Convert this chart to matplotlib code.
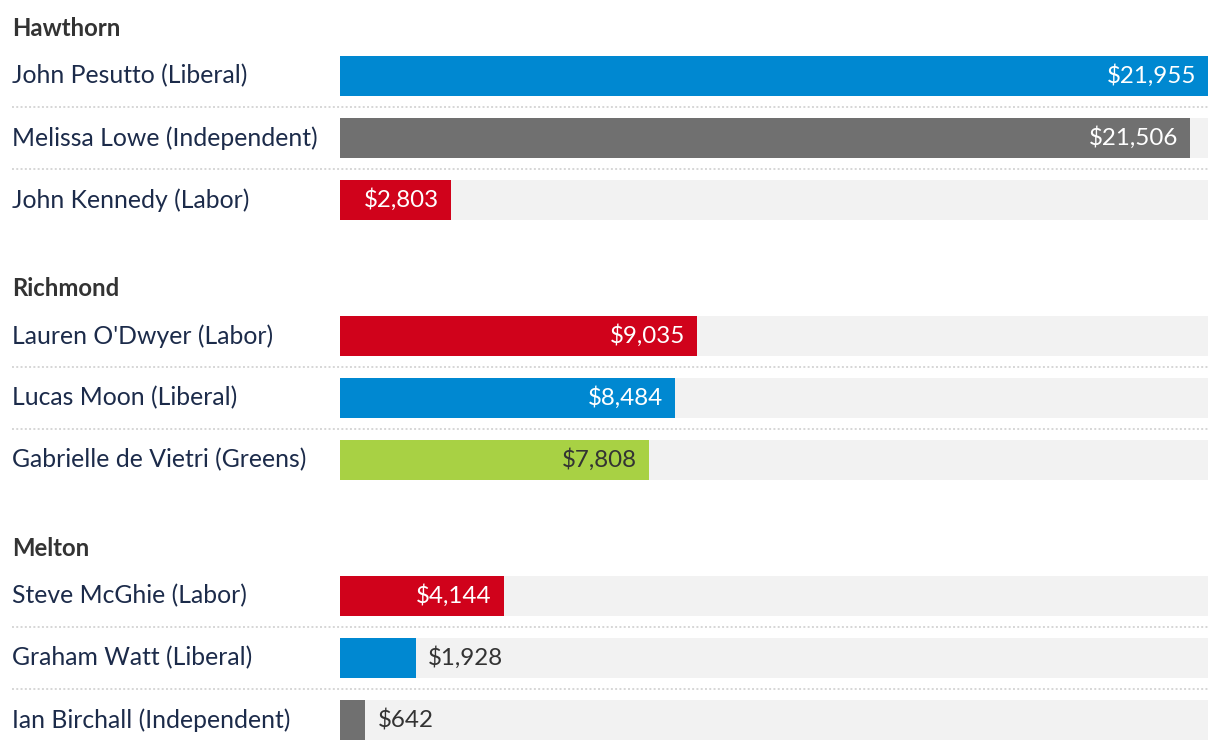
import matplotlib
matplotlib.use("Agg")
import matplotlib.pyplot as plt
from matplotlib.transforms import blended_transform_factory

# ---- data ----
groups = ["Hawthorn", "Richmond", "Melton"]
candidates = [
    ["John Pesutto (Liberal)", "Melissa Lowe (Independent)", "John Kennedy (Labor)"],
    ["Lauren O'Dwyer (Labor)", "Lucas Moon (Liberal)", "Gabrielle de Vietri (Greens)"],
    ["Steve McGhie (Labor)", "Graham Watt (Liberal)", "Ian Birchall (Independent)"],
]
parties = [
    ["Liberal", "Independent", "Labor"],
    ["Labor", "Liberal", "Greens"],
    ["Labor", "Liberal", "Independent"],
]
values = [
    [21955, 21506, 2803],
    [9035, 8484, 7808],
    [4144, 1928, 642],
]

# ---- style ----
party_colors = {"Liberal": "#0088d1", "Independent": "#707070",
                "Labor": "#d0021b", "Greens": "#a8d144"}
inside_text = {"Liberal": "white", "Independent": "white",
               "Labor": "white", "Greens": "#333333"}
FONT = "Lato"
W, H = 1220, 750
fig = plt.figure(figsize=(W / 100, H / 100), dpi=100)
fig.patch.set_facecolor("white")
x0, x1 = 340, 1208
ax = fig.add_axes([x0 / W, 0, (x1 - x0) / W, 1])
ax.set_xlim(0, max(max(v) for v in values))
ax.set_ylim(H, 0)
ax.axis("off")
vmax = ax.get_xlim()[1]
tr_lab = blended_transform_factory(fig.transFigure, ax.transData)

row_h = 40
row_step = 62
group_step = 260
first_center = 76
header_off = 48
fs = 17.8
fs_val = 17.4

for g, gname in enumerate(groups):
    base = first_center + g * group_step
    ax.text(12 / W, base - header_off, gname, transform=tr_lab, fontsize=17.2,
            fontweight="bold", color="#333333", va="center", ha="left", family=FONT)
    n = len(candidates[g])
    for i in range(n):
        yc = base + i * row_step
        v = values[g][i]
        p = parties[g][i]
        ax.barh(yc, vmax, height=row_h, color="#f2f2f2", left=0, zorder=1)
        ax.barh(yc, v, height=row_h, color=party_colors[p], left=0, zorder=2)
        ax.text(12 / W, yc, candidates[g][i], transform=tr_lab, fontsize=fs,
                color="#1c2b4a", va="center", ha="left", family=FONT)
        label = f"${v:,}"
        frac = v / vmax
        if frac * (x1 - x0) > 105:
            ax.text(v - vmax * 12 / (x1 - x0), yc, label, fontsize=fs_val,
                    color=inside_text[p], va="center", ha="right", family=FONT, zorder=3)
        else:
            ax.text(v + vmax * 12 / (x1 - x0), yc, label, fontsize=fs_val,
                    color="#333333", va="center", ha="left", family=FONT, zorder=3)
        if i < n - 1:
            ys = yc + row_step / 2
            ax.plot([12 / W, x1 / W], [ys, ys], transform=tr_lab, color="#d6d6d6",
                    lw=1.4, ls=(0, (1, 1.2)), clip_on=False, zorder=1)

fig.savefig("out.png", dpi=100, facecolor="white")
